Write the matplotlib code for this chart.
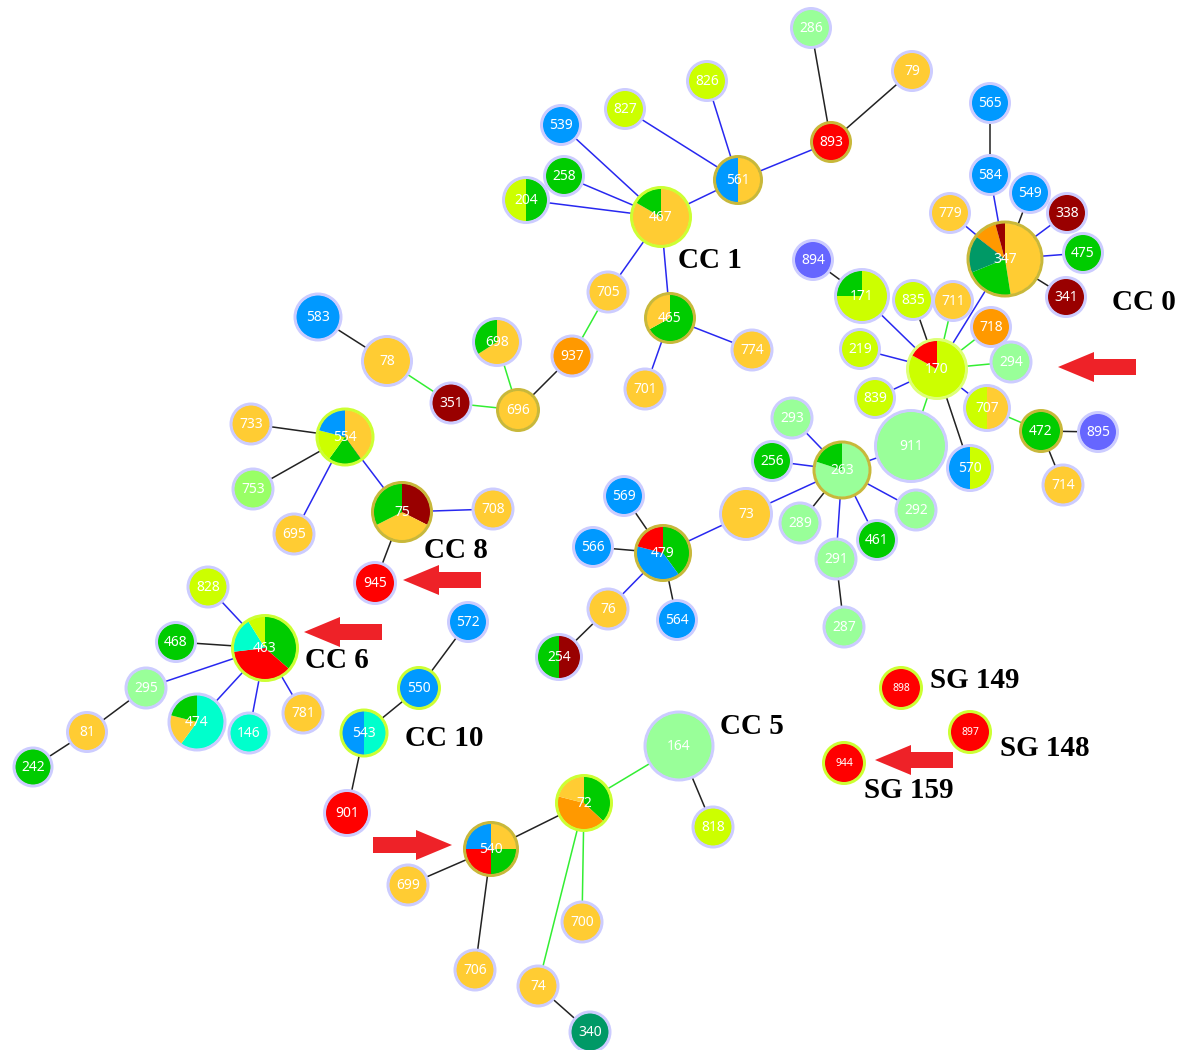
import matplotlib
matplotlib.use("Agg")
import matplotlib.pyplot as plt
from matplotlib.patches import Wedge, Circle, FancyArrow

# colour of each strain category
CAT_COLORS = {
    "gold": "#FFCC33", "green": "#00CC00", "lime": "#CCFF00", "blue": "#0099FF",
    "lgreen": "#99FF99", "red": "#FF0000", "dred": "#990000", "orange": "#FF9900",
    "teal": "#009966", "cyan": "#00FFCC", "purple": "#6666FF", "mint": "#99FF66",
}
RING_COLORS = {"lav": "#CCCCFF", "gold": "#C8B83A", "lime": "#CCFF33", "pale": "#DDFF77"}
EDGE_COLORS = {"k": "#222222", "b": "#2828F0", "g": "#33EE33"}

# node ids, layout (pixel position, radius) and composition
node_ids = ["286", "79", "893", "826", "827", "539", "258", "204", "467", "561",
            "705", "465", "774", "701", "937", "698", "696", "351", "78", "583",
            "565", "584", "549", "338", "475", "341", "779", "347", "894", "171",
            "835", "711", "718", "219", "170", "294", "839", "707", "911", "570",
            "472", "895", "714", "293", "256", "263", "292", "289", "461", "291",
            "287", "73", "569", "566", "479", "564", "76", "254", "733", "554",
            "753", "695", "75", "708", "945", "828", "468", "463", "295", "474",
            "146", "781", "81", "242", "572", "550", "543", "901", "164", "818",
            "72", "540", "699", "706", "700", "74", "340", "898", "897", "944"]
node_x = [811, 912, 831, 707, 625, 561, 564, 526, 661, 738,
          608, 670, 752, 645, 572, 497, 518, 451, 387, 318,
          990, 990, 1030, 1067, 1083, 1066, 950, 1005, 813, 862,
          913, 953, 991, 860, 937, 1011, 875, 987, 911, 970,
          1041, 1098, 1063, 792, 772, 842, 916, 800, 877, 836,
          844, 746, 624, 593, 663, 677, 608, 559, 251, 345,
          253, 294, 402, 493, 375, 208, 176, 265, 146, 197,
          249, 303, 87, 33, 468, 419, 364, 347, 679, 713,
          584, 491, 408, 475, 582, 538, 590, 901, 970, 844]
node_y = [28, 71, 142, 81, 109, 125, 176, 200, 217, 180,
          292, 318, 350, 389, 356, 342, 410, 403, 361, 317,
          103, 175, 193, 213, 253, 297, 213, 259, 260, 296,
          300, 301, 327, 349, 369, 362, 398, 408, 446, 468,
          431, 432, 485, 418, 461, 470, 510, 523, 540, 559,
          627, 514, 496, 547, 553, 620, 609, 657, 424, 437,
          489, 534, 512, 509, 583, 587, 642, 648, 688, 722,
          733, 713, 732, 767, 622, 688, 733, 813, 746, 827,
          803, 849, 885, 970, 922, 986, 1032, 688, 732, 763]
node_r = [21, 21, 21, 21, 21, 21, 21, 24, 31, 25,
          21.5, 26, 21.5, 21.5, 21.5, 25, 22, 21.5, 26, 24.5,
          21, 21, 21, 21, 21, 21, 21, 38.5, 21, 28,
          21, 21, 21, 21, 31, 21.5, 21, 24, 37, 24,
          22, 21, 21.5, 21.5, 21, 29.5, 21.5, 21.5, 21, 21.5,
          21.5, 27, 21, 21, 29, 21, 21.5, 24, 21.5, 29.5,
          21.5, 21.5, 31, 21.5, 22, 21.5, 21, 34, 21.5, 29.5,
          21.5, 21.5, 21, 20.5, 21, 22, 24.5, 24, 35.5, 21.5,
          29, 28, 21.5, 21.5, 21.5, 21.5, 21.5, 22, 22, 22]
# slices, clockwise from 12 o'clock
node_pie = [
    [("lgreen", 1)], [("gold", 1)], [("red", 1)], [("lime", 1)], [("lime", 1)],
    [("blue", 1)], [("green", 1)], [("green", .5), ("lime", .5)],
    [("gold", 5 / 6), ("green", 1 / 6)], [("gold", .5), ("blue", .5)],
    [("gold", 1)], [("green", .67), ("gold", .33)], [("gold", 1)], [("gold", 1)],
    [("orange", 1)], [("gold", .66), ("green", .34)], [("gold", 1)], [("dred", 1)],
    [("gold", 1)], [("blue", 1)],
    [("blue", 1)], [("blue", 1)], [("blue", 1)], [("dred", 1)], [("green", 1)],
    [("dred", 1)], [("gold", 1)],
    [("gold", .475), ("green", .214), ("teal", .167), ("orange", .101), ("dred", .043)],
    [("purple", 1)], [("lime", .75), ("green", .25)],
    [("lime", 1)], [("gold", 1)], [("orange", 1)], [("lime", 1)],
    [("lime", .83), ("red", .17)], [("lgreen", 1)], [("lime", 1)],
    [("gold", .5), ("lime", .5)], [("lgreen", 1)], [("lime", .5), ("blue", .5)],
    [("green", 1)], [("purple", 1)], [("gold", 1)], [("lgreen", 1)], [("green", 1)],
    [("lgreen", .8), ("green", .2)], [("lgreen", 1)], [("lgreen", 1)], [("green", 1)],
    [("lgreen", 1)],
    [("lgreen", 1)], [("gold", 1)], [("blue", 1)], [("blue", 1)],
    [("green", .40), ("blue", .39), ("red", .21)], [("blue", 1)], [("gold", 1)],
    [("dred", .5), ("green", .5)], [("gold", 1)],
    [("gold", .40), ("green", .20), ("lime", .19), ("blue", .21)],
    [("mint", 1)], [("gold", 1)], [("dred", .325), ("gold", .35), ("green", .325)],
    [("gold", 1)], [("red", 1)], [("lime", 1)], [("green", 1)],
    [("green", .364), ("red", .367), ("cyan", .18), ("lime", .089)], [("lgreen", 1)],
    [("cyan", .60), ("gold", .19), ("green", .21)],
    [("cyan", 1)], [("gold", 1)], [("gold", 1)], [("green", 1)], [("blue", 1)],
    [("blue", 1)], [("cyan", .5), ("blue", .5)], [("red", 1)], [("lgreen", 1)],
    [("lime", 1)],
    [("green", .37), ("orange", .42), ("gold", .21)],
    [("gold", .25), ("green", .25), ("red", .25), ("blue", .25)],
    [("gold", 1)], [("gold", 1)], [("gold", 1)], [("gold", 1)], [("teal", 1)],
    [("red", 1)], [("red", 1)], [("red", 1)],
]
ring_gold = ["893", "561", "465", "696", "347", "472", "263", "479", "75", "540"]
ring_lime = ["467", "554", "463", "550", "543", "72", "898", "897", "944"]
ring_pale = ["170"]
small_label = ["898", "897", "944"]

# links between nodes and their colour
edge_a = ["286", "79", "893", "561", "827", "561", "539", "258", "204", "467",
          "467", "465", "465", "705", "937", "696", "696", "351", "78",
          "565", "584", "549", "338", "475", "341", "779", "347", "894", "171",
          "835", "711", "718", "294", "219", "839", "707", "911", "570", "707",
          "472", "472", "911", "263", "263", "263", "263", "263", "263", "291",
          "263", "73", "479", "479", "479", "479", "76", "554", "554", "554",
          "554", "75", "75", "463", "463", "463", "463", "463", "463", "295",
          "81", "572", "550", "543", "164", "164", "72", "72", "72", "74",
          "540", "540"]
edge_b = ["893", "893", "561", "826", "561", "467", "467", "467", "467", "705",
          "465", "774", "701", "937", "696", "698", "351", "78", "583",
          "584", "347", "347", "347", "347", "347", "347", "170", "171", "170",
          "170", "170", "170", "170", "170", "170", "170", "170", "170", "472",
          "895", "714", "263", "293", "256", "292", "289", "461", "291", "287",
          "73", "479", "569", "566", "564", "76", "254", "733", "753", "695",
          "75", "708", "945", "828", "468", "295", "474", "146", "781", "81",
          "242", "550", "543", "901", "72", "818", "540", "700", "74", "340",
          "699", "706"]
edge_kind = ["k", "k", "b", "b", "b", "b", "b", "b", "b", "b",
             "b", "b", "b", "g", "k", "g", "g", "g", "k",
             "k", "b", "k", "b", "b", "k", "b", "b", "k", "b",
             "k", "g", "g", "g", "b", "b", "b", "g", "k", "g",
             "k", "k", "b", "b", "b", "b", "k", "b", "b", "k",
             "b", "b", "k", "k", "k", "b", "k", "k", "k", "b",
             "b", "b", "k", "b", "k", "b", "b", "b", "b", "k",
             "k", "k", "k", "k", "g", "k", "k", "g", "g", "k",
             "k", "k"]

# cluster annotations
label_text = ["CC 1", "CC 0", "CC 8", "CC 6", "CC 10", "CC 5", "SG 149", "SG 148", "SG 159"]
label_x = [678, 1112, 424, 305, 405, 720, 930, 1000, 864]
label_y = [261, 302, 551, 660, 739, 726, 680, 748, 790]

# red pointer arrows (tail -> tip)
arrow_tail = [(1136, 367), (481, 580), (382, 632), (373, 845), (953, 760)]
arrow_tip = [(1058, 367), (403, 580), (304, 632), (452, 845), (875, 760)]

W, H = 1186, 1050
fig = plt.figure(figsize=(W / 100, H / 100), dpi=100)
ax = fig.add_axes([0, 0, 1, 1])
ax.set_xlim(0, W)
ax.set_ylim(H, 0)
ax.set_aspect("equal")
ax.axis("off")

pos = {n: (x, y) for n, x, y in zip(node_ids, node_x, node_y)}

for a, b, k in zip(edge_a, edge_b, edge_kind):
    ax.plot([pos[a][0], pos[b][0]], [pos[a][1], pos[b][1]],
            color=EDGE_COLORS[k], lw=1.1, zorder=1, solid_capstyle="butt")

bw = 3.0  # ring width in px
for n, x, y, r, pie in zip(node_ids, node_x, node_y, node_r, node_pie):
    start = -90.0
    for cat, frac in pie:
        end = start + 360.0 * frac
        ax.add_patch(Wedge((x, y), r - bw + 0.5, start, end, facecolor=CAT_COLORS[cat],
                           edgecolor="none", zorder=2))
        start = end
    if n in ring_gold:
        rc = RING_COLORS["gold"]
    elif n in ring_lime:
        rc = RING_COLORS["lime"]
    elif n in ring_pale:
        rc = RING_COLORS["pale"]
    else:
        rc = RING_COLORS["lav"]
    ax.add_patch(Circle((x, y), r - bw / 2, facecolor="none", edgecolor=rc,
                        lw=bw * 0.72, zorder=3))
    fs = 7.5 if n in small_label else 10
    ax.text(x, y + 0.5, n, color="white", fontsize=fs, family="Noto Sans",
            ha="center", va="center", zorder=4)

for t, x, y in zip(label_text, label_x, label_y):
    ax.text(x, y, t, fontsize=21, family="Liberation Serif", fontweight="bold",
            ha="left", va="center", color="black", zorder=5)

for (tx, ty), (hx, hy) in zip(arrow_tail, arrow_tip):
    ax.add_patch(FancyArrow(tx, ty, hx - tx, hy - ty, width=16, head_width=30,
                            head_length=36, length_includes_head=True,
                            color="#EE2228", lw=0, zorder=5))

fig.savefig("out.png", dpi=100, facecolor="white")
